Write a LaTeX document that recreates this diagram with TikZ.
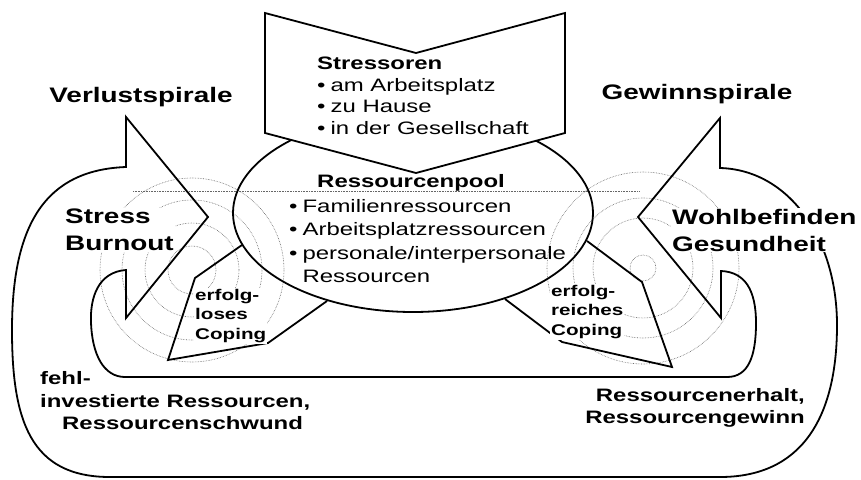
\documentclass[tikz,border=0pt]{standalone}
\usepackage{fontspec}
\setmainfont{Liberation Sans}[FakeStretch=1.33]
\newcommand{\itm}{\textbullet\hspace{5pt}}
\tikzset{
  band/.style={line width=1.8pt},
  wave/.style={black!60, densely dotted, line width=0.6pt},
  title/.style={font=\fontsize{21}{27}\selectfont\bfseries, inner sep=1pt},
  cope/.style={font=\fontsize{15.5}{19.5}\selectfont\bfseries, align=left, inner sep=1pt, fill=white},
  lst/.style={font=\fontsize{18}{21.5}\selectfont, align=left, inner sep=1pt},
  foot/.style={font=\fontsize{18}{22.5}\selectfont\bfseries, inner sep=1pt}
}
\begin{document}
\begin{tikzpicture}[x=1pt, y=-1pt]
\useasboundingbox (0,0) rectangle (861,479);
\coordinate (lw) at (192,270);
\coordinate (rw) at (643,268);
\foreach \r in {24,47,70,92} \draw[wave] (lw) circle[radius=\r];
\foreach \r in {13,50,70,96} \draw[wave] (rw) circle[radius=\r];
\draw[wave] (133,191) -- (640,191);
\draw[band] (413,213) ellipse[x radius=180, y radius=99];
\draw[band] (126,167) -- (126,117) -- (208,217) -- (126,318) -- (126,270)
  .. controls (98,272) and (90,298) .. (91,322)
  .. controls (92,355) and (104,377) .. (125,377) -- (727,377)
  .. controls (748,377) and (756,357) .. (756,323)
  .. controls (756,290) and (745,272) .. (721,271)
  -- (721,318) -- (638,217) -- (720,118) -- (720,168)
  .. controls (790,170) and (837,240) .. (837,325)
  .. controls (837,420) and (800,477) .. (720,477) -- (110,477)
  .. controls (30,477) and (12,420) .. (12,330)
  .. controls (12,225) and (45,170) .. (126,167) -- cycle;
\draw[band] (242,245) -- (195,278) -- (168,360) -- (268,343) -- (327,301);
\draw[band] (587,241) -- (642,282) -- (672,367) -- (562,342) -- (505,299);
\draw[band, fill=white] (265,13) -- (416,53) -- (565,13) -- (565,133) -- (416,173) -- (265,133) -- cycle;
\node[title] (vs) at (141,97) {Verlustspirale};
\node[title] (gs) at (697,94) {Gewinnspirale};
\node[title, align=left, fill=white, anchor=west] (sb) at (64,230) {Stress\\Burnout};
\node[title, align=left, fill=white, anchor=west] (wg) at (671,230) {Wohlbefinden\\Gesundheit};
\node[lst, anchor=west] (str) at (316,96) {\textbf{Stressoren}\\\itm am Arbeitsplatz\\\itm zu Hause\\\itm in der Gesellschaft};
\node[lst, font=\fontsize{18}{21.5}\selectfont\bfseries] (rp) at (411,183) {Ressourcenpool};
\node[lst, font=\fontsize{18}{23.3}\selectfont, anchor=west] (rl) at (288,241) {\itm Familienressourcen\\\itm Arbeitsplatzressourcen\\\itm personale/interpersonale\\\phantom{\itm}Ressourcen};
\node[cope, anchor=west] (lc) at (194,316) {erfolg-\\loses\\Coping};
\node[cope, anchor=west] (rc) at (550,312) {erfolg-\\reiches\\Coping};
\node[foot, align=left, anchor=west] (fr) at (39,401) {fehl-\\investierte Ressourcen,\\\hspace*{22pt}Ressourcenschwund};
\node[foot, align=right, anchor=east] (rg) at (806,408) {Ressourcenerhalt,\\Ressourcengewinn};
\end{tikzpicture}
\end{document}
